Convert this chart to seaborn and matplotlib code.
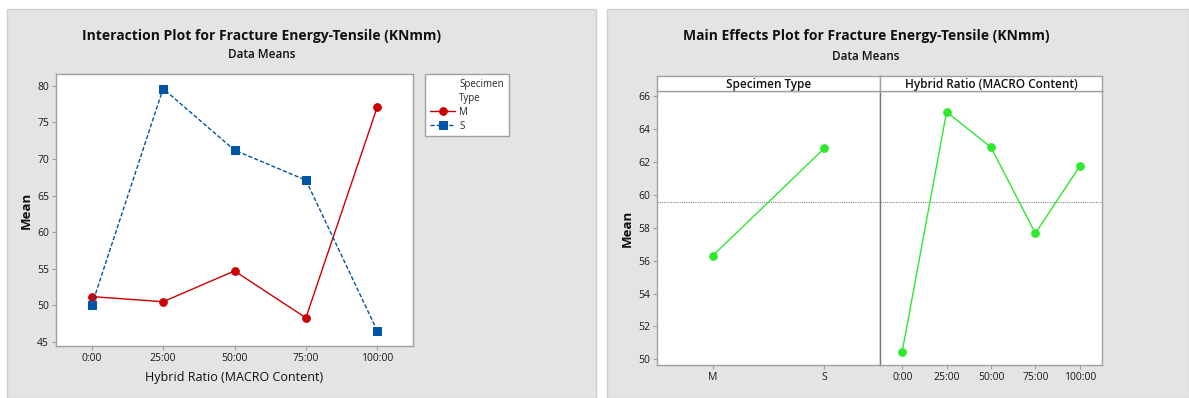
import matplotlib
matplotlib.use("Agg")
import matplotlib.pyplot as plt
from matplotlib.patches import Rectangle
from matplotlib.lines import Line2D
import seaborn as sns
import pandas as pd

# data
ratios = ["0:00", "25:00", "50:00", "75:00", "100:00"]
types = ["M", "S"]
m_means = [51.2, 50.5, 54.7, 48.3, 77.1]
s_means = [50.0, 79.6, 71.2, 67.1, 46.5]
type_means = [56.3, 62.83]
ratio_means = [50.46, 65.05, 62.89, 57.66, 61.75]
grand_mean = 59.55

sns.set_theme(style="white")
plt.rcParams["font.family"] = ["Open Sans", "DejaVu Sans"]

W, H = 1189, 398
fig = plt.figure(figsize=(W / 100, H / 100), dpi=100)
fig.patch.set_facecolor("white")


def fx(px):
    return px / W


def fy(py):
    return 1 - py / H


def box(x0, y0, x1, y1):
    return [fx(x0), fy(y1), fx(x1) - fx(x0), fy(y0) - fy(y1)]


# gray panel backgrounds
for x0, x1 in [(7, 596), (607, 1189)]:
    fig.patches.append(Rectangle((fx(x0), 0), fx(x1) - fx(x0), fy(9), transform=fig.transFigure,
                                 facecolor="#E4E4E4", edgecolor="#CFCFCF", lw=1, zorder=-5))

spine_col = "#A0A0A0"
tick_kw = dict(labelsize=7.5, length=3, width=0.8, color=spine_col, pad=2, labelcolor="#1A1A1A")


def style_ax(ax):
    ax.set_facecolor("white")
    for s in ax.spines.values():
        s.set_color(spine_col)
        s.set_linewidth(1)
    ax.tick_params(axis="both", which="both", bottom=True, left=True, **tick_kw)


# ---------- interaction plot ----------
df_int = pd.DataFrame({
    "ratio": ratios * 2,
    "type": ["M"] * 5 + ["S"] * 5,
    "mean": m_means + s_means,
})

ax1 = fig.add_axes(box(56, 74, 413, 346))
sns.pointplot(data=df_int, x="ratio", y="mean", hue="type", order=ratios, hue_order=types,
              palette={"M": "#CC0000", "S": "#0054A6"}, markers=["o", "s"],
              linestyles=["-", (0, (3, 1.5))], markersize=5.5, linewidth=1, ax=ax1)
ax1.set_xlim(-0.5, 4.5)
ax1.set_ylim(44.45, 81.6)
ax1.set_yticks([45, 50, 55, 60, 65, 70, 75, 80])
style_ax(ax1)
ax1.set_xlabel("Hybrid Ratio (MACRO Content)", fontsize=9, labelpad=5, color="#111111")
ax1.set_ylabel("Mean", fontsize=9.5, fontweight="bold", labelpad=3, color="#111111")

handles, labels = ax1.get_legend_handles_labels()
ax1.get_legend().remove()
blank = Line2D([], [], alpha=0)
leg = fig.legend([blank, blank] + handles, ["Specimen", "Type"] + labels, loc="upper left",
                 bbox_to_anchor=(fx(425), fy(74)), fontsize=7,
                 frameon=True, fancybox=False, handlelength=2.6, borderpad=0.5,
                 labelspacing=0.3, handletextpad=0.4, borderaxespad=0)
leg.get_frame().set_edgecolor(spine_col)
leg.get_frame().set_facecolor("white")
leg.get_frame().set_alpha(1)

fig.text(fx(261), fy(36), "Interaction Plot for Fracture Energy-Tensile (KNmm)",
         ha="center", va="center", fontsize=10, fontweight="bold", color="#111111")
fig.text(fx(262), fy(55), "Data Means", ha="center", va="center", fontsize=8.5,
         fontweight="semibold", color="#111111")

# ---------- main effects plot ----------
green = "#2EE82E"
df_type = pd.DataFrame({"level": types, "mean": type_means})
df_ratio = pd.DataFrame({"level": ratios, "mean": ratio_means})

ax2 = fig.add_axes(box(657, 91, 880, 365))
ax3 = fig.add_axes(box(880, 91, 1102, 365), sharey=ax2)
for ax, d, order, title, x0, x1 in [
    (ax2, df_type, types, "Specimen Type", 657, 880),
    (ax3, df_ratio, ratios, "Hybrid Ratio (MACRO Content)", 880, 1102),
]:
    sns.pointplot(data=d, x="level", y="mean", order=order, color=green, markers="o",
                  markersize=5.5, linewidth=1, ax=ax)
    ax.axhline(grand_mean, color="#888888", ls=(0, (1, 1)), lw=0.8, zorder=0)
    ax.set_xlim(-0.5, len(order) - 0.5)
    style_ax(ax)
    ax.set_xlabel("")
    ax.set_ylabel("")
    strip = fig.add_axes(box(x0, 76, x1, 91))
    strip.set_facecolor("white")
    strip.set_xticks([])
    strip.set_yticks([])
    for s in strip.spines.values():
        s.set_color(spine_col)
        s.set_linewidth(1)
    strip.text(0.5, 0.45, title, ha="center", va="center", fontsize=8.5,
               fontweight="semibold", color="#111111", transform=strip.transAxes)

ax2.set_ylim(49.65, 66.32)
ax2.set_yticks([50, 52, 54, 56, 58, 60, 62, 64, 66])
ax3.tick_params(axis="y", left=False, labelleft=False)
ax3.spines["left"].set_color("#777777")
ax2.set_ylabel("Mean", fontsize=9.5, fontweight="bold", labelpad=3, color="#111111")

fig.text(fx(866), fy(36), "Main Effects Plot for Fracture Energy-Tensile (KNmm)",
         ha="center", va="center", fontsize=10, fontweight="bold", color="#111111")
fig.text(fx(866), fy(56), "Data Means", ha="center", va="center", fontsize=8.5,
         fontweight="semibold", color="#111111")

fig.savefig("out.png", dpi=100)
